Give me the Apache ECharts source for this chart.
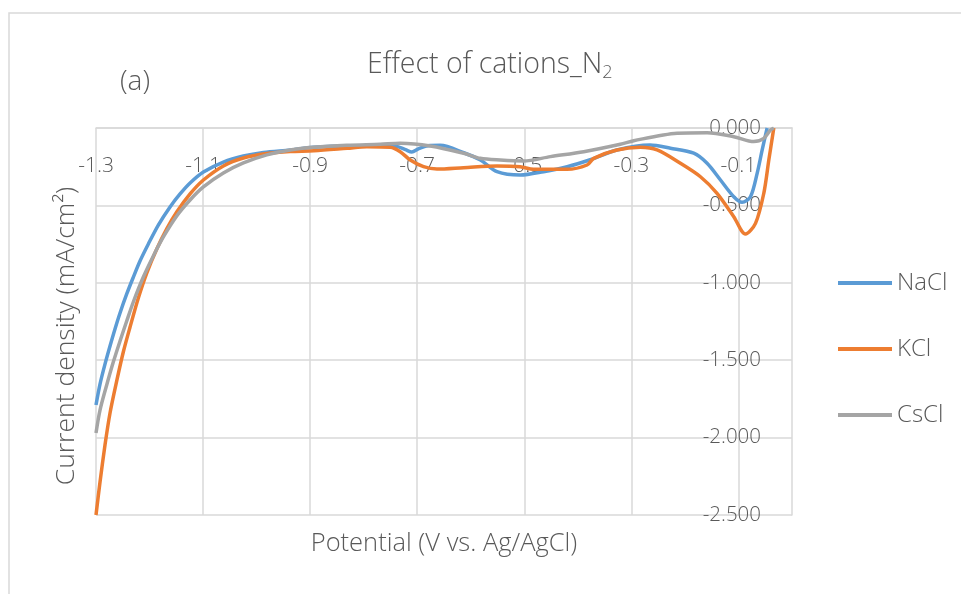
<!DOCTYPE html>
<html>
<head>
<meta charset="utf-8">
<script src="https://cdn.jsdelivr.net/npm/echarts@6/dist/echarts.min.js"></script>
<style>
  html, body { margin: 0; padding: 0; background: #ffffff; }
  #chart { width: 961px; height: 594px; }
</style>
</head>
<body>
<div id="chart"></div>
<script>
// Linear sweep voltammograms under N2: potential (V vs. Ag/AgCl) and current density (mA/cm2)
const seriesNames = ['NaCl', 'KCl', 'CsCl'];

const naclPotential = [-1.300, -1.2925, -1.2832, -1.2738, -1.2645, -1.2551, -1.2426, -1.2302, -1.2178, -1.2022,
  -1.1836, -1.1617, -1.1430, -1.1243, -1.0994, -1.0621, -1.0247, -0.9873, -0.9374, -0.8940,
  -0.8310, -0.7690, -0.7400, -0.7220, -0.7100, -0.6980, -0.6800, -0.6570, -0.6130, -0.5820,
  -0.5510, -0.5075, -0.4640, -0.4200, -0.3770, -0.3270, -0.2650, -0.2270, -0.1835, -0.1586,
  -0.1336, -0.1088, -0.0932, -0.0776, -0.0651, -0.0557, -0.0464];
const naclCurrent = [-1.789, -1.654, -1.525, -1.408, -1.298, -1.195, -1.072, -0.963, -0.859, -0.749,
  -0.627, -0.510, -0.426, -0.355, -0.284, -0.220, -0.181, -0.158, -0.142, -0.125,
  -0.116, -0.116, -0.118, -0.140, -0.155, -0.135, -0.115, -0.112, -0.160, -0.207,
  -0.282, -0.304, -0.282, -0.250, -0.205, -0.142, -0.110, -0.131, -0.163, -0.228,
  -0.336, -0.444, -0.480, -0.444, -0.293, -0.142, 0.000];

const kclPotential = [-1.300, -1.2925, -1.2832, -1.2738, -1.2613, -1.2490, -1.2364, -1.2209, -1.2052, -1.1865,
  -1.1679, -1.1492, -1.1243, -1.0994, -1.0621, -1.0247, -0.9809, -0.9374, -0.8930, -0.8310,
  -0.7940, -0.7505, -0.7318, -0.7131, -0.6882, -0.6632, -0.6134, -0.5510, -0.5075, -0.4826,
  -0.4203, -0.3828, -0.3704, -0.3268, -0.2832, -0.2520, -0.2084, -0.1710, -0.1400, -0.1088,
  -0.0869, -0.0682, -0.0527, -0.0433, -0.0340];
const kclCurrent = [-2.500, -2.287, -2.048, -1.841, -1.634, -1.447, -1.286, -1.098, -0.937, -0.782,
  -0.652, -0.543, -0.426, -0.336, -0.245, -0.194, -0.165, -0.152, -0.147, -0.131,
  -0.121, -0.125, -0.153, -0.207, -0.250, -0.265, -0.256, -0.245, -0.250, -0.267,
  -0.267, -0.239, -0.196, -0.142, -0.125, -0.142, -0.228, -0.315, -0.422, -0.573,
  -0.685, -0.616, -0.422, -0.207, 0.000];

const csclPotential = [-1.300, -1.2925, -1.2800, -1.2677, -1.2551, -1.2426, -1.2303, -1.2116, -1.1929, -1.1742,
  -1.1492, -1.1243, -1.0994, -1.0621, -1.0247, -0.9809, -0.9374, -0.8940, -0.8314, -0.7690,
  -0.7318, -0.6757, -0.6134, -0.5822, -0.5449, -0.5013, -0.4514, -0.3890, -0.3206, -0.2956,
  -0.2147, -0.1586, -0.1088, -0.0714, -0.0527, -0.0402, -0.0340];
const csclCurrent = [-1.970, -1.822, -1.660, -1.512, -1.376, -1.247, -1.124, -0.963, -0.827, -0.704,
  -0.568, -0.465, -0.381, -0.291, -0.226, -0.174, -0.142, -0.125, -0.112, -0.105,
  -0.099, -0.116, -0.163, -0.196, -0.207, -0.213, -0.185, -0.153, -0.105, -0.082,
  -0.034, -0.030, -0.056, -0.088, -0.067, -0.013, 0.000];

// Labelled potentials on the horizontal axis (every other 0.1 V step)
const xTickLabels = ['-1.3', '-1.1', '-0.9', '-0.7', '-0.5', '-0.3', '-0.1'];
// Current-density ticks on the vertical axis
const yTickValues = [0, -0.5, -1.0, -1.5, -2.0, -2.5];

const seriesColors = ['#5B9BD5', '#ED7D31', '#A5A5A5'];
const textColor = '#595959';
const gridColor = '#D9D9D9';
const fontFamily = '"Open Sans", "Noto Sans", sans-serif';
const fontWeight = 300;

const pair = (xs, ys) => xs.map((x, i) => [x, ys[i]]);
const curves = [
  pair(naclPotential, naclCurrent),
  pair(kclPotential, kclCurrent),
  pair(csclPotential, csclCurrent)
];

const chart = echarts.init(document.getElementById('chart'), null, { renderer: 'canvas' });

chart.setOption({
  animation: false,
  backgroundColor: '#ffffff',
  textStyle: { fontFamily: fontFamily, fontWeight: fontWeight },
  title: {
    text: '{m|Effect of cations_N}{s|2}',
    left: 362,
    top: 43,
    textStyle: {
      fontWeight: fontWeight,
      rich: {
        m: { fontSize: 28.5, fontWeight: fontWeight, color: textColor, fontFamily: fontFamily, lineHeight: 34, verticalAlign: 'middle' },
        s: { fontSize: 18, fontWeight: fontWeight, color: textColor, fontFamily: fontFamily, lineHeight: 34, verticalAlign: 'bottom' }
      }
    }
  },
  legend: {
    orient: 'vertical',
    left: 838,
    top: 271,
    padding: 0,
    itemWidth: 54,
    itemHeight: 4,
    itemGap: 42,
    icon: 'rect',
    data: seriesNames,
    textStyle: { fontSize: 24, fontWeight: fontWeight, color: textColor, fontFamily: fontFamily, lineHeight: 24 }
  },
  grid: { left: 96, top: 128, width: 696, height: 387, containLabel: false },
  xAxis: [
    {
      type: 'value',
      position: 'top',
      min: -1.3,
      max: 0,
      interval: 0.1,
      axisLine: { show: true, onZero: false, lineStyle: { color: gridColor, width: 1.5 } },
      axisTick: { show: false },
      axisLabel: {
        inside: true,
        margin: 28,
        fontSize: 21,
        fontWeight: fontWeight,
        color: textColor,
        fontFamily: fontFamily,
        showMinLabel: true,
        showMaxLabel: true,
        formatter: (v) => {
          const s = v.toFixed(1);
          return xTickLabels.includes(s) ? s : '';
        }
      },
      splitLine: { show: true, lineStyle: { color: [gridColor, 'rgba(0,0,0,0)'], width: 1.5 } }
    },
    {
      type: 'value',
      position: 'bottom',
      min: -1.3,
      max: 0,
      name: 'Potential (V vs. Ag/AgCl)',
      nameLocation: 'middle',
      nameGap: 16,
      nameTextStyle: { fontSize: 25.5, fontWeight: fontWeight, color: textColor, fontFamily: fontFamily },
      axisLine: { show: false },
      axisTick: { show: false },
      axisLabel: { show: false },
      splitLine: { show: false }
    }
  ],
  yAxis: {
    type: 'value',
    position: 'right',
    min: -2.5,
    max: 0,
    interval: 0.5,
    axisLine: { show: true, onZero: false, lineStyle: { color: gridColor, width: 1.5 } },
    axisTick: { show: false },
    axisLabel: {
      inside: true,
      margin: 31,
      fontSize: 20.5,
      fontWeight: fontWeight,
      color: textColor,
      fontFamily: fontFamily,
      formatter: (v) => {
        const hit = yTickValues.find((t) => Math.abs(t - v) < 1e-9);
        return hit === undefined ? '' : hit.toFixed(3);
      }
    },
    splitLine: { show: true, lineStyle: { color: gridColor, width: 1.5 } }
  },
  graphic: [
    {
      type: 'rect',
      silent: true,
      shape: { x: 9, y: 13, width: 1200, height: 900 },
      style: { fill: 'none', stroke: gridColor, lineWidth: 1.5 },
      z: -10
    },
    {
      type: 'text',
      x: 135,
      y: 82,
      style: { text: '(a)', fontSize: 28, fontWeight: fontWeight, fill: textColor, fontFamily: fontFamily, align: 'center', verticalAlign: 'middle' }
    },
    {
      type: 'text',
      x: 66,
      y: 336,
      rotation: Math.PI / 2,
      style: { text: 'Current density (mA/cm²)', fontSize: 26.5, fontWeight: fontWeight, fill: textColor, fontFamily: fontFamily, align: 'center', verticalAlign: 'middle' }
    }
  ],
  series: seriesNames.map((name, i) => ({
    name: name,
    type: 'line',
    xAxisIndex: 0,
    yAxisIndex: 0,
    data: curves[i],
    showSymbol: false,
    smooth: 0.3,
    color: seriesColors[i],
    lineStyle: { width: 3.5, color: seriesColors[i] },
    z: 3 + i
  }))
});
</script>
</body>
</html>
